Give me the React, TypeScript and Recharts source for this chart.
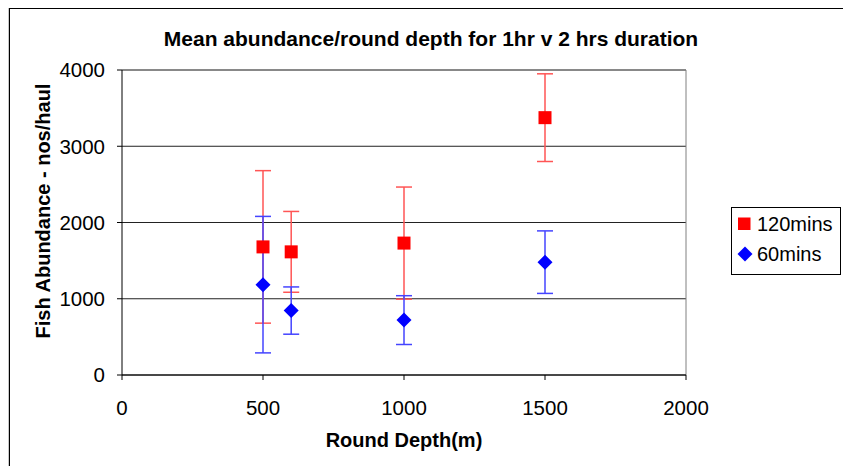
import React from "react";
import {
  ScatterChart,
  Scatter,
  XAxis,
  YAxis,
  CartesianGrid,
  ErrorBar,
  ReferenceLine,
} from "recharts";

// round depth (m)
const depths = [500, 600, 1000, 1500];
// 120 min hauls
const mean120 = [1680, 1615, 1730, 3375];
const err120 = [1000, 530, 735, 575];
// 60 min hauls
const mean60 = [1185, 845, 720, 1480];
const err60 = [895, 310, 320, 410];

const xTicks = [0, 500, 1000, 1500, 2000];
const yTicks = [0, 1000, 2000, 3000, 4000];

const data120 = depths.map((d, i) => ({ depth: d, value: mean120[i], err: err120[i] }));
const data60 = depths.map((d, i) => ({ depth: d, value: mean60[i], err: err60[i] }));

const font = "'Liberation Sans', Arial, sans-serif";

const Square = (props: any) => {
  const { cx, cy } = props;
  return <rect x={cx - 6.5} y={cy - 6.5} width={13} height={13} fill="#FF0000" />;
};

const Diamond = (props: any) => {
  const { cx, cy } = props;
  return (
    <path
      d={`M${cx},${cy - 7.5} L${cx + 7.5},${cy} L${cx},${cy + 7.5} L${cx - 7.5},${cy} Z`}
      fill="#0000FF"
    />
  );
};

const YLabel = () => (
  <text
    x={50}
    y={211}
    transform="rotate(-90 50 211)"
    textAnchor="middle"
    fontFamily={font}
    fontSize={20}
    fontWeight="bold"
    fill="#000"
  >
    Fish Abundance - nos/haul
  </text>
);

const LegendBox = () => (
  <div
    style={{
      position: "absolute",
      left: 731,
      top: 207,
      width: 108,
      height: 65,
      border: "1px solid #000",
      background: "#fff",
      fontFamily: font,
      fontSize: 20,
      color: "#000",
      lineHeight: "30px",
      paddingTop: 1,
    }}
  >
    <div style={{ display: "flex", alignItems: "center", paddingLeft: 5 }}>
      <svg width={20} height={14}>
        <rect x={1} y={0.5} width={12.5} height={12.5} fill="#FF0000" />
      </svg>
      120mins
    </div>
    <div style={{ display: "flex", alignItems: "center", paddingLeft: 5 }}>
      <svg width={20} height={16}>
        <path d="M8,0.5 L15.5,8 L8,15.5 L0.5,8 Z" fill="#0000FF" />
      </svg>
      60mins
    </div>
  </div>
);

export default function App() {
  return (
    <div
      style={{
        position: "absolute",
        left: 0,
        top: 0,
        width: 843,
        height: 466,
        background: "#fff",
        overflow: "hidden",
      }}
    >
      <div
        style={{
          position: "absolute",
          left: 8,
          top: 8,
          width: 900,
          height: 500,
          borderLeft: "1px solid #c8c8c8",
        }}
      />
      <div
        style={{
          position: "absolute",
          left: 9,
          top: 8,
          width: 900,
          height: 500,
          borderLeft: "1px solid #000",
          borderTop: "1px solid #000",
          boxShadow: "0 1px 0 #999",
        }}
      />
      <div
        style={{
          position: "absolute",
          left: 0,
          width: 862,
          top: 27,
          lineHeight: "24px",
          textAlign: "center",
          fontFamily: font,
          fontWeight: "bold",
          fontSize: 21,
        }}
      >
        Mean abundance/round depth for 1hr v 2 hrs duration
      </div>
      <div style={{ position: "absolute", left: 0, top: 0 }}>
        <ScatterChart
          width={843}
          height={466}
          margin={{ top: 70, right: 157, bottom: 11, left: 20 }}
        >
          <CartesianGrid horizontal vertical={false} stroke="#222" />
          <XAxis
            type="number"
            dataKey="depth"
            domain={[0, 2000]}
            ticks={xTicks}
            height={80}
            stroke="#000"
            tickSize={5}
            tickMargin={20}
            tick={{ fill: "#000", fontSize: 20.5, fontFamily: font }}
            label={{
              value: "Round Depth(m)",
              position: "insideBottom",
              offset: 8,
              fill: "#000",
              fontSize: 20,
              fontWeight: "bold",
              fontFamily: font,
            }}
          />
          <YAxis
            type="number"
            dataKey="value"
            domain={[0, 4000]}
            ticks={yTicks}
            width={102}
            stroke="#000"
            tickSize={5}
            tickMargin={12}
            tick={{ fill: "#000", fontSize: 20.5, fontFamily: font }}
            label={<YLabel />}
          />
          <ReferenceLine x={2000} stroke="#808080" />
          <ReferenceLine y={4000} stroke="#808080" />
          <Scatter
            name="120mins"
            data={data120}
            fill="#FF0000"
            shape={<Square />}
            isAnimationActive={false}
          >
            <ErrorBar dataKey="err" direction="y" width={8} stroke="#FF5555" strokeWidth={1.5} />
          </Scatter>
          <Scatter
            name="60mins"
            data={data60}
            fill="#0000FF"
            shape={<Diamond />}
            isAnimationActive={false}
          >
            <ErrorBar dataKey="err" direction="y" width={8} stroke="#4444FF" strokeWidth={1.5} />
          </Scatter>
        </ScatterChart>
      </div>
      <LegendBox />
    </div>
  );
}
